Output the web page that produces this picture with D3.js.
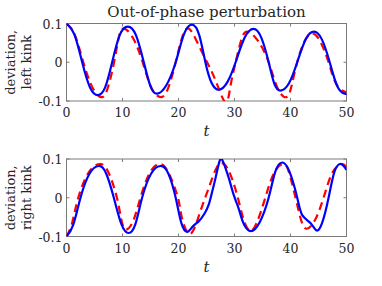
<!DOCTYPE html>
<html>
<head>
<meta charset="utf-8">
<script src="https://cdn.jsdelivr.net/npm/d3@7"></script>
<style>
  body { margin: 0; background: #fff; }
  svg text { font-family: "DejaVu Serif", serif; fill: #262626; }
</style>
</head>
<body>
<div id="chart"></div>
<script>
// Values, [t, deviation]
const leftBlue = [[0,0.1],[1.4,0.072],[2.8,0],[4.2,-0.065],[5.6,-0.085],[6.9,-0.065],[8.15,0],[9.5,0.07],[10.95,0.092],[12.4,0.07],[13.8,0],[15.0,-0.062],[16.2,-0.081],[17.8,-0.06],[19.5,0],[21.0,0.073],[22.45,0.097],[23.7,0.07],[24.8,0],[25.9,-0.053],[27.2,-0.071],[28.7,-0.052],[30.2,0],[31.8,0.063],[33.4,0.086],[34.8,0.063],[36.1,0],[37.1,-0.055],[38.2,-0.073],[39.7,-0.055],[41.2,0],[42.7,0.059],[44.2,0.079],[45.6,0.059],[47.0,0],[48.4,-0.063],[49.7,-0.081],[50,-0.08]];
const leftRed = [[0,0.1],[1.5,0.07],[3.0,0],[4.7,-0.067],[6.4,-0.09],[7.5,-0.06],[8.5,0],[9.3,0.062],[10.2,0.087],[11.9,0.062],[13.6,0],[15.2,-0.067],[16.9,-0.09],[18.2,-0.065],[19.5,0],[20.6,0.062],[21.8,0.087],[23.4,0.05],[25.1,0],[26.7,-0.05],[28.4,-0.103],[29.3,-0.06],[30.2,0],[31.2,0.057],[32.3,0.079],[34.2,0.055],[36.1,0],[37.7,-0.067],[39.3,-0.09],[40.2,-0.06],[41.2,0],[42.5,0.054],[43.9,0.074],[45.3,0.054],[46.8,0],[48.2,-0.057],[50,-0.078]];
const rightBlue = [[0,-0.1],[1.2,-0.07],[2.5,0],[4.1,0.062],[5.8,0.082],[7.1,0.062],[8.45,0],[9.8,-0.068],[11.1,-0.091],[12.3,-0.068],[13.5,0],[15.1,0.062],[16.8,0.082],[18.2,0.062],[19.5,0],[20.5,-0.065],[21.55,-0.088],[22.5,-0.075],[23.6,-0.061],[24.6,-0.042],[25.4,-0.018],[26.0,0.015],[26.6,0.05],[27.2,0.088],[27.7,0.1],[28.3,0.08],[29.0,0.05],[29.8,0.01],[30.5,-0.018],[31.1,-0.045],[31.7,-0.069],[32.9,-0.086],[34.5,-0.063],[36.1,0],[37.3,0.068],[38.5,0.091],[39.8,0.068],[41.2,0],[42.1,-0.045],[43.6,-0.066],[44.6,-0.084],[45.6,-0.067],[46.8,0],[47.8,0.065],[48.8,0.087],[49.5,0.082],[50,0.072]];
const rightRed = [[0,-0.1],[1.0,-0.065],[2.1,0],[4.0,0.066],[6.1,0.087],[7.6,0.062],[9.0,0],[9.8,-0.057],[10.6,-0.082],[11.9,-0.06],[13.2,0],[14.9,0.065],[16.7,0.087],[18.3,0.062],[19.9,0],[20.6,-0.051],[22.1,-0.093],[23.9,-0.035],[25.4,0.025],[26.9,0.08],[28.2,0.086],[29.4,0.055],[30.6,0],[31.6,-0.055],[32.8,-0.086],[34.1,-0.06],[35.5,0],[37.1,0.065],[38.8,0.087],[39.8,0.062],[40.9,0],[41.9,-0.058],[42.9,-0.08],[44.4,-0.057],[45.9,0],[47.5,0.065],[49.2,0.087],[50,0.078]];

const xTicks = [0, 10, 20, 30, 40, 50];
const yTicks = [-0.1, 0, 0.1];
const yTickLabels = ['-0.1', '0', '0.1'];
const panels = [
    { label: ['deviation,', 'left kink'], blue: leftBlue, red: leftRed, title: 'Out-of-phase perturbation' },
    { label: ['deviation,', 'right kink'], blue: rightBlue, red: rightRed, title: null }
];

const width = 382, height = 286;
const svg = d3.select('#chart').append('svg')
    .attr('width', width)
    .attr('height', height);

const x = d3.scaleLinear().domain([0, 50]).range([66.5, 346.5]);
const tops = [23.5, 159];
const plotH = 77.5;
const fs = 12.5;

panels.forEach((p, i) => {
    const top = tops[i];
    const y = d3.scaleLinear().domain([-0.1, 0.1]).range([top + plotH, top]);
    const g = svg.append('g');

    const clipId = 'clip' + i;
    svg.append('clipPath').attr('id', clipId)
        .append('rect')
        .attr('x', x(0)).attr('y', top)
        .attr('width', x(50) - x(0)).attr('height', plotH);

    // box
    g.append('rect')
        .attr('x', x(0)).attr('y', top)
        .attr('width', x(50) - x(0)).attr('height', plotH)
        .attr('fill', 'none').attr('stroke', '#7a7a7a').attr('stroke-width', 1);

    // inward ticks on all four sides
    const tl = 3;
    xTicks.forEach(t => {
        g.append('line').attr('x1', x(t)).attr('x2', x(t))
            .attr('y1', top + plotH).attr('y2', top + plotH - tl)
            .attr('stroke', '#7a7a7a');
        g.append('line').attr('x1', x(t)).attr('x2', x(t))
            .attr('y1', top).attr('y2', top + tl)
            .attr('stroke', '#7a7a7a');
        g.append('text').attr('x', x(t)).attr('y', top + plotH + 16)
            .attr('text-anchor', 'middle').attr('font-size', fs)
            .text(t);
    });
    yTicks.forEach((v, j) => {
        g.append('line').attr('x1', x(0)).attr('x2', x(0) + tl)
            .attr('y1', y(v)).attr('y2', y(v)).attr('stroke', '#7a7a7a');
        g.append('line').attr('x1', x(50)).attr('x2', x(50) - tl)
            .attr('y1', y(v)).attr('y2', y(v)).attr('stroke', '#7a7a7a');
        g.append('text').attr('x', x(0) - 4).attr('y', y(v) + 5)
            .attr('text-anchor', 'end').attr('font-size', fs)
            .text(yTickLabels[j]);
    });

    const line = d3.line()
        .x(d => x(d[0]))
        .y(d => y(d[1]))
        .curve(d3.curveNatural);

    const plot = g.append('g').attr('clip-path', `url(#${clipId})`);
    plot.append('path').datum(p.red)
        .attr('d', line)
        .attr('fill', 'none').attr('stroke', '#ff0000')
        .attr('stroke-width', 2.2).attr('stroke-dasharray', '8,5');
    plot.append('path').datum(p.blue)
        .attr('d', line)
        .attr('fill', 'none').attr('stroke', '#0000ff')
        .attr('stroke-width', 2.2);

    // t label
    g.append('text').attr('x', (x(0) + x(50)) / 2).attr('y', top + plotH + 35)
        .attr('text-anchor', 'middle').attr('font-size', 15)
        .attr('font-style', 'italic').text('t');

    // y label, two lines
    const cy = top + plotH / 2;
    p.label.forEach((s, k) => {
        g.append('text')
            .attr('transform', `translate(${15 + k * 16},${cy}) rotate(-90)`)
            .attr('text-anchor', 'middle').attr('font-size', 13)
            .text(s);
    });

    if (p.title) {
        g.append('text').attr('x', (x(0) + x(50)) / 2).attr('y', 17)
            .attr('text-anchor', 'middle').attr('font-size', 15)
            .text(p.title);
    }
});
</script>
</body>
</html>
